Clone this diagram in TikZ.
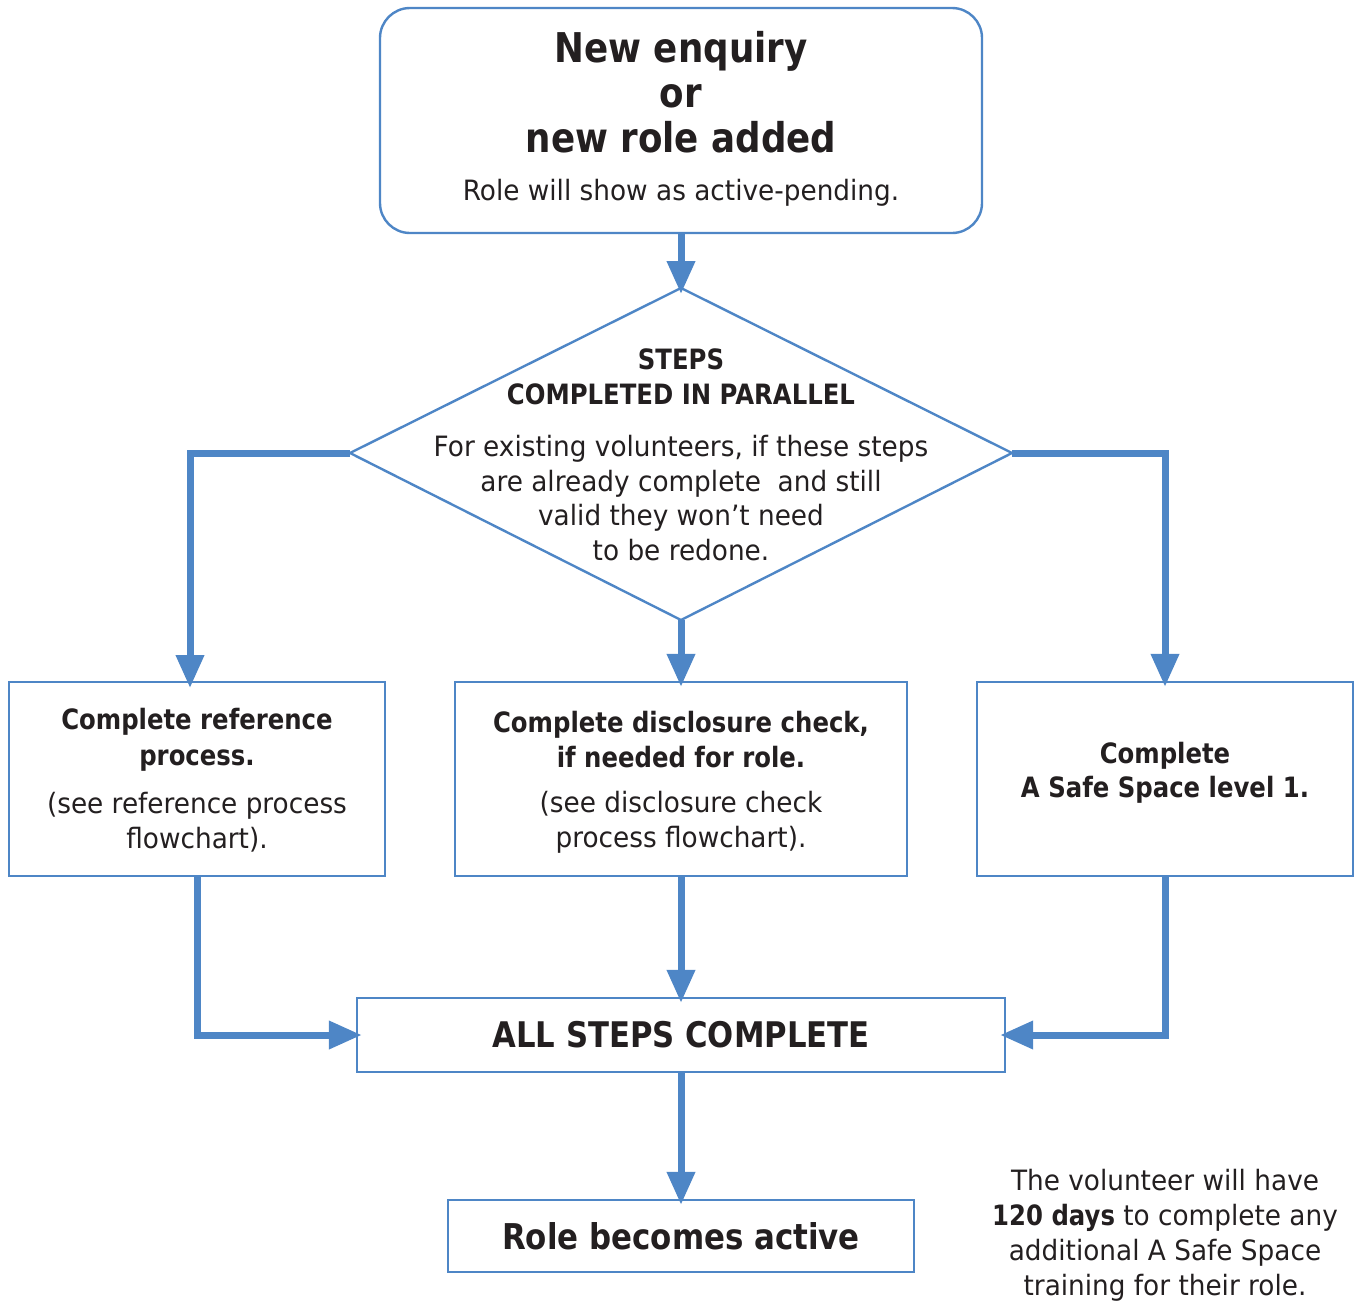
\documentclass[tikz,border=0pt]{standalone}
\usepackage{fontspec}
\setmainfont{DejaVu Sans}[UprightFeatures={FakeStretch=0.94}, BoldFeatures={FakeStretch=0.87}]
\usetikzlibrary{arrows.meta}
\definecolor{flowblue}{HTML}{4E86C6}
\definecolor{txt}{HTML}{231F20}
\tikzset{
  shapebox/.style={draw=flowblue, line width=2.4pt, fill=white, inner sep=0pt},
  conn/.style={draw=flowblue, line width=7pt, -{Triangle[width=27pt,length=33pt]}, shorten >=-6pt},
  lbl/.style={align=center, text=txt, inner sep=0pt},
}
\begin{document}
\begin{tikzpicture}[x=1pt,y=-1pt]
\useasboundingbox (0,0) rectangle (1362,1302);
% top box
\node[shapebox, rounded corners=30pt, minimum width=602pt, minimum height=225pt] (top) at (681,120.5) {};
\node[lbl, font=\fontsize{41}{45}\selectfont\bfseries] (toptitle) at (681,92) {New enquiry\\or\\new role added};
\node[lbl, font=\fontsize{28}{35}\selectfont] (topsub) at (681,193) {Role will show as active-pending.};
% diamond
\coordinate (dtop) at (681,288);
\coordinate (dleft) at (350,453);
\coordinate (dright) at (1012,453);
\coordinate (dbot) at (681,620);
\draw[flowblue, line width=2.4pt, fill=white, line join=miter] (dtop) -- (dright) -- (dbot) -- (dleft) -- cycle;
\node[lbl, font=\fontsize{28}{35}\selectfont\bfseries] (dtitle) at (681,376.5) {STEPS\\COMPLETED IN PARALLEL};
\node[lbl, font=\fontsize{28}{34.7}\selectfont] (dtext) at (681,498) {For existing volunteers, if these steps\\are already complete\ \ and still\\valid they won’t need\\to be redone.};
% three boxes
\node[shapebox, minimum width=376pt, minimum height=194pt] (ref) at (197,779) {};
\node[lbl, font=\fontsize{28}{36}\selectfont\bfseries] (reft) at (197,740) {Complete reference\\process.};
\node[lbl, font=\fontsize{28}{35}\selectfont] (refs) at (197,822.5) {(see reference process\\flowchart).};
\node[shapebox, minimum width=452pt, minimum height=194pt] (disc) at (681,779) {};
\node[lbl, font=\fontsize{28}{35}\selectfont\bfseries] (disct) at (681,739.5) {Complete disclosure check,\\if needed for role.};
\node[lbl, font=\fontsize{28}{35}\selectfont] (discs) at (681,822.5) {(see disclosure check\\process flowchart).};
\node[shapebox, minimum width=376pt, minimum height=194pt] (safe) at (1165,779) {};
\node[lbl, font=\fontsize{28}{34}\selectfont\bfseries] (safet) at (1165,773) {Complete\\A Safe Space level 1.};
% all steps
\node[shapebox, minimum width=648pt, minimum height=74pt] (all) at (681,1035) {};
\node[lbl, font=\fontsize{35.3}{40}\selectfont\bfseries] (allt) at (681,1035) {ALL STEPS COMPLETE};
% role active
\node[shapebox, minimum width=466pt, minimum height=72pt] (act) at (681,1236) {};
\node[lbl, font=\fontsize{35.5}{40}\selectfont\bfseries] (actt) at (681,1236) {Role becomes active};
% note
\node[lbl, font=\fontsize{28}{35}\selectfont] (note) at (1165,1235) {The volunteer will have\\\textbf{120 days} to complete any\\additional A Safe Space\\training for their role.};
% connectors
\draw[conn] (top.south) -- (dtop);
\draw[conn] (dleft) -- (190,453) -- (190,682);
\draw[conn] (dright) -- (1165,453) -- (safe.north);
\draw[conn] (dbot) -- (disc.north);
\draw[conn] (ref.south) -- (197,1035) -- (all.west);
\draw[conn] (safe.south) -- (1165,1035) -- (all.east);
\draw[conn] (disc.south) -- (all.north);
\draw[conn] (all.south) -- (act.north);
\end{tikzpicture}
\end{document}
